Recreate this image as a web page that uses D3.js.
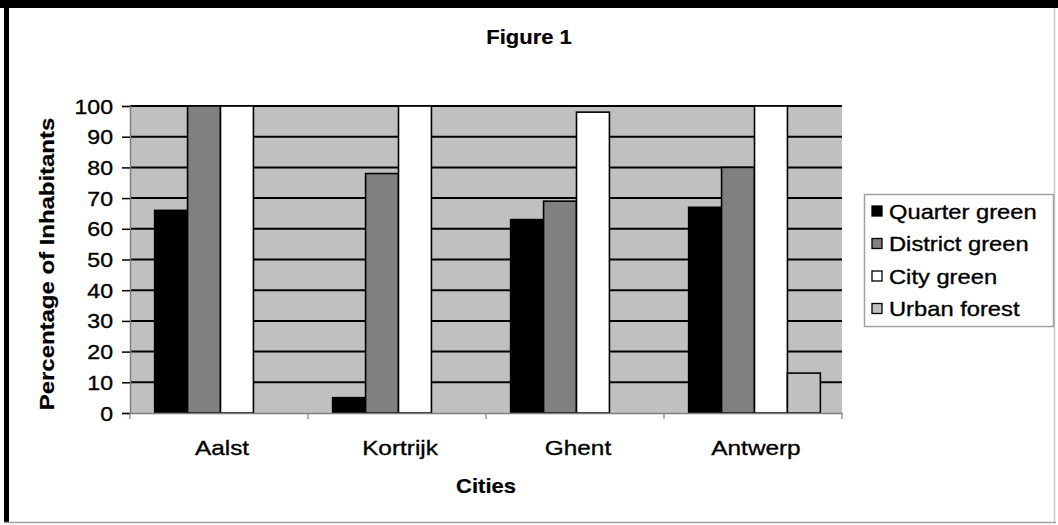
<!DOCTYPE html>
<html>
<head>
<meta charset="utf-8">
<script src="https://cdn.jsdelivr.net/npm/d3@7"></script>
<style>
  html, body { margin: 0; padding: 0; background: #fff; }
  svg { display: block; }
  text { font-family: "Liberation Sans", Arial, sans-serif; fill: #000; }
</style>
</head>
<body>
<svg id="chart" width="1058" height="525"></svg>
<script>
// Share of inhabitants living within reach of each type of green space
const cities = ["Aalst", "Kortrijk", "Ghent", "Antwerp"];
const seriesNames = ["Quarter green", "District green", "City green", "Urban forest"];
const quarterGreen  = [66, 5, 63, 67];
const districtGreen = [100, 78, 69, 80];
const cityGreen     = [100, 100, 98, 100];
const urbanForest   = [0, 0, 0, 13];
const yTicks = [0, 10, 20, 30, 40, 50, 60, 70, 80, 90, 100];

const seriesValues = [quarterGreen, districtGreen, cityGreen, urbanForest];
const seriesFill = ["#000000", "#808080", "#ffffff", "#c0c0c0"];

const svg = d3.select("#chart");
const W = 1058, H = 525;
const plot = { left: 130, right: 842, top: 106, bottom: 413 };

// Outer frame
svg.append("rect").attr("x", 0).attr("y", 0).attr("width", W).attr("height", H).attr("fill", "#fff");
svg.append("rect").attr("x", 0).attr("y", 0).attr("width", W).attr("height", 8).attr("fill", "#000");
svg.append("rect").attr("x", 4).attr("y", 0).attr("width", 5).attr("height", 522).attr("fill", "#000");
svg.append("line").attr("x1", 1054.5).attr("x2", 1054.5).attr("y1", 8).attr("y2", 522)
  .attr("stroke", "#c8c8c8").attr("stroke-width", 1.5);
svg.append("line").attr("x1", 4).attr("x2", 1056).attr("y1", 522.5).attr("y2", 522.5)
  .attr("stroke", "#a0a0a0").attr("stroke-width", 1.5);

// Helper for horizontally widened text
function label(g, x, y, str, opts = {}) {
  const t = g.append("text")
    .attr("transform", `translate(${x},${y}) rotate(${opts.rotate || 0}) scale(${opts.stretch || 1.1},1)`)
    .attr("font-size", opts.size || 21)
    .attr("font-weight", opts.bold ? "bold" : "normal")
    .attr("text-anchor", opts.anchor || "middle")
    .attr("stroke", "#000").attr("stroke-width", opts.bold ? 0.2 : 0.35)
    .text(str);
  return t;
}

const x0 = d3.scaleBand().domain(cities).range([plot.left, plot.right]).paddingInner(0).paddingOuter(0);
const groupWidth = x0.bandwidth() * 0.74;
const x1 = d3.scaleBand().domain(seriesNames).range([0, groupWidth]).padding(0);
const y = d3.scaleLinear().domain([0, 100]).range([plot.bottom, plot.top]);

// Plot area background
svg.append("rect")
  .attr("x", plot.left).attr("y", plot.top)
  .attr("width", plot.right - plot.left).attr("height", plot.bottom - plot.top)
  .attr("fill", "#c0c0c0");

// Gridlines
svg.append("g").selectAll("line").data(yTicks.filter(d => d > 0)).join("line")
  .attr("x1", plot.left).attr("x2", plot.right)
  .attr("y1", d => y(d)).attr("y2", d => y(d))
  .attr("stroke", "#000").attr("stroke-width", 2);

// Bars
const groups = svg.append("g").selectAll("g").data(cities).join("g")
  .attr("transform", c => `translate(${x0(c) + (x0.bandwidth() - groupWidth) / 2 + 1.5},0)`);
groups.selectAll("rect")
  .data((c, ci) => seriesNames.map((s, si) => ({ s, si, v: seriesValues[si][ci] })).filter(d => d.v > 0))
  .join("rect")
  .attr("x", d => x1(d.s))
  .attr("y", d => y(d.v))
  .attr("width", x1.bandwidth())
  .attr("height", d => y(0) - y(d.v))
  .attr("fill", d => seriesFill[d.si])
  .attr("stroke", "#000").attr("stroke-width", 1.6);

// Axes
const yAxis = svg.append("g").attr("transform", `translate(${plot.left},0)`)
  .call(d3.axisLeft(y).tickValues(yTicks).tickSize(8).tickPadding(9).tickFormat(d3.format("d")));
yAxis.select(".domain").attr("stroke", "#808080").attr("stroke-width", 1.5);
yAxis.selectAll(".tick line").attr("stroke", "#000").attr("stroke-width", 1.5);
yAxis.selectAll(".tick text").remove();
yTicks.forEach(t => label(svg, 113, y(t) + 7.5, String(t), { anchor: "end" }));

const xAxis = svg.append("g").attr("transform", `translate(0,${plot.bottom})`)
  .call(d3.axisBottom(x0).tickSize(0).tickFormat(""));
xAxis.select(".domain").attr("stroke", "#808080").attr("stroke-width", 1.5);
// Category separator ticks
svg.append("g").selectAll("line")
  .data(cities.map(c => x0(c)).concat([plot.right]))
  .join("line")
  .attr("x1", d => d).attr("x2", d => d)
  .attr("y1", plot.bottom).attr("y2", plot.bottom + 6)
  .attr("stroke", "#808080").attr("stroke-width", 1.2);
cities.forEach(c => label(svg, x0(c) + x0.bandwidth() / 2 + 3, 455, c, { stretch: 1.16 }));

// Titles
label(svg, 529, 44, "Figure 1", { bold: true, size: 20 });
label(svg, 486, 493, "Cities", { bold: true, size: 20 });
label(svg, 54, 264, "Percentage of Inhabitants", { bold: true, size: 21, rotate: -90, stretch: 1.14 });

// Legend
const lg = svg.append("g");
lg.append("rect").attr("x", 864.5).attr("y", 194.5).attr("width", 189).attr("height", 132)
  .attr("fill", "#fff").attr("stroke", "#a0a0a0").attr("stroke-width", 1.5);
seriesNames.forEach((s, i) => {
  const cy = 211 + i * 32.5;
  lg.append("rect").attr("x", 872).attr("y", cy - 5).attr("width", 10).attr("height", 10)
    .attr("fill", seriesFill[i]).attr("stroke", "#000").attr("stroke-width", 1.3);
  label(lg, 889, cy + 7.5, s, { anchor: "start", stretch: 1.13 });
});
</script>
</body>
</html>
